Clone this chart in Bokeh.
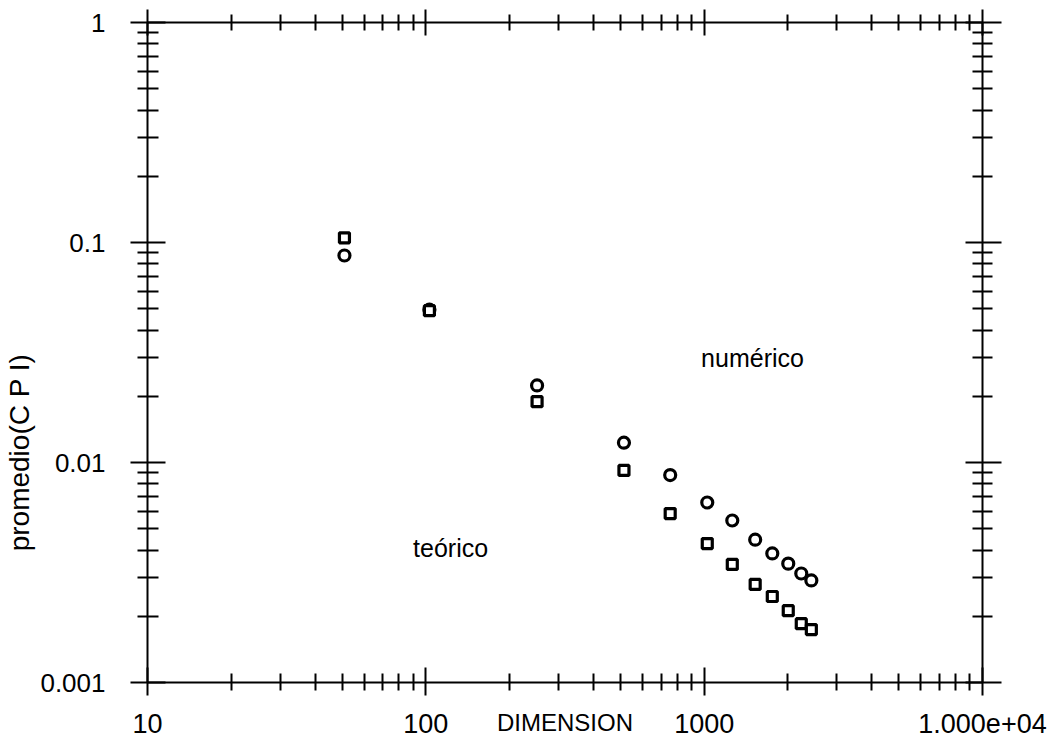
from bokeh.plotting import figure
from bokeh.models import LogAxis, FixedTicker, Label, CustomJSTickFormatter
from bokeh.embed import file_html
from bokeh.resources import INLINE

# Data
dimension = [51, 103, 251, 515, 755, 1026, 1262, 1525, 1757, 2005, 2233, 2427]
numerico = [0.0873, 0.0495, 0.0224, 0.0123, 0.00877, 0.00658, 0.00545, 0.00446, 0.00386, 0.00347, 0.00313, 0.00291]
teorico = [0.105, 0.0490, 0.0189, 0.0092, 0.00586, 0.00428, 0.00344, 0.00279, 0.00246, 0.00212, 0.00185, 0.00174]

x_ticks = [10, 100, 1000, 10000]
x_tick_labels = ["10", "100", "1000", "1.000e+04"]
y_ticks = [0.001, 0.01, 0.1, 1]
y_tick_labels = ["0.001", "0.01", "0.1", "1"]
x_minor = [m * d for d in [10, 100, 1000] for m in range(2, 10)]
y_minor = [m * d for d in [0.001, 0.01, 0.1] for m in range(2, 10)]
x_title = "DIMENSION"
y_title = "promedio(C P I)"
y_title_at = 0.0111  # y value where the vertical title is centred in the picture

FONT = "Liberation Sans"

p = figure(width=1056, height=747, x_axis_type="log", y_axis_type="log",
           x_range=(10, 10000), y_range=(0.001, 1),
           output_backend="svg", toolbar_location=None,
           min_border_left=147, min_border_right=74,
           min_border_top=22, min_border_bottom=65)
p.grid.visible = False
p.outline_line_color = None
p.background_fill_color = "white"
p.border_fill_color = "white"


def style(ax, tin, tout, min_in, min_out):
    ax.axis_line_color = "black"
    ax.axis_line_width = 2
    ax.major_tick_line_color = "black"
    ax.major_tick_line_width = 2
    ax.minor_tick_line_color = "black"
    ax.minor_tick_line_width = 2
    ax.major_tick_in = tin
    ax.major_tick_out = tout
    ax.minor_tick_in = min_in
    ax.minor_tick_out = min_out
    ax.major_label_text_font = FONT
    ax.major_label_text_color = "black"


LABEL_JS = """
for (let i = 0; i < vals.length; i++) {
    if (Math.abs(Math.log10(tick) - Math.log10(vals[i])) < 1e-6) return labs[i];
}
return "";
"""

xa = p.xaxis[0]
xa.ticker = FixedTicker(ticks=x_ticks, minor_ticks=x_minor)
xa.formatter = CustomJSTickFormatter(args=dict(vals=x_ticks, labs=x_tick_labels), code=LABEL_JS)
style(xa, 15, 13, 9, 8)
xa.major_label_text_font_size = "27px"
xa.major_label_standoff = 18
xa.axis_label = x_title
xa.axis_label_text_font = FONT
xa.axis_label_text_font_style = "normal"
xa.axis_label_text_font_size = "24px"
xa.axis_label_text_color = "black"
xa.axis_label_standoff = -27

ya = p.yaxis[0]
ya.ticker = FixedTicker(ticks=y_ticks, minor_ticks=y_minor)
ya.formatter = CustomJSTickFormatter(args=dict(vals=y_ticks, labs=y_tick_labels), code=LABEL_JS)
style(ya, 18, 17, 11, 10)
ya.major_label_text_font_size = "26px"
ya.major_label_standoff = 25

# vertical title, drawn as the single label of an outer left axis
ytitle_axis = LogAxis(ticker=FixedTicker(ticks=[y_title_at], minor_ticks=[]),
                      formatter=CustomJSTickFormatter(args=dict(t=y_title), code="return t;"))
ytitle_axis.axis_line_color = None
ytitle_axis.major_tick_line_color = None
ytitle_axis.minor_tick_line_color = None
ytitle_axis.major_tick_in = 0
ytitle_axis.major_tick_out = 0
ytitle_axis.minor_tick_in = 0
ytitle_axis.minor_tick_out = 0
ytitle_axis.major_label_standoff = 2
ytitle_axis.major_label_orientation = "parallel"
ytitle_axis.major_label_text_font = FONT
ytitle_axis.major_label_text_font_size = "28px"
ytitle_axis.major_label_text_color = "black"
p.add_layout(ytitle_axis, "left")

top = LogAxis(ticker=FixedTicker(ticks=x_ticks, minor_ticks=x_minor),
              formatter=CustomJSTickFormatter(code="return '';"))
style(top, 13, 13, 8, 8)
top.major_label_text_font_size = "2px"
top.major_label_standoff = 0
p.add_layout(top, "above")

right = LogAxis(ticker=FixedTicker(ticks=y_ticks, minor_ticks=y_minor),
                formatter=CustomJSTickFormatter(code="return '';"))
style(right, 17, 19, 10, 10)
right.major_label_text_font_size = "2px"
right.major_label_standoff = 0
p.add_layout(right, "right")

p.scatter(dimension, numerico, marker="circle", size=11,
          fill_color="white", line_color="black", line_width=3.2)
p.scatter(dimension, teorico, marker="square", size=10,
          fill_color="white", line_color="black", line_width=3.2)

p.add_layout(Label(x=975, y=0.030, text="numérico", text_font=FONT,
                   text_font_size="25px", text_color="black",
                   text_baseline="middle", text_align="left"))
p.add_layout(Label(x=90, y=0.0041, text="teórico", text_font=FONT,
                   text_font_size="25px", text_color="black",
                   text_baseline="middle", text_align="left"))

open("out.html", "w").write(file_html(p, INLINE))
